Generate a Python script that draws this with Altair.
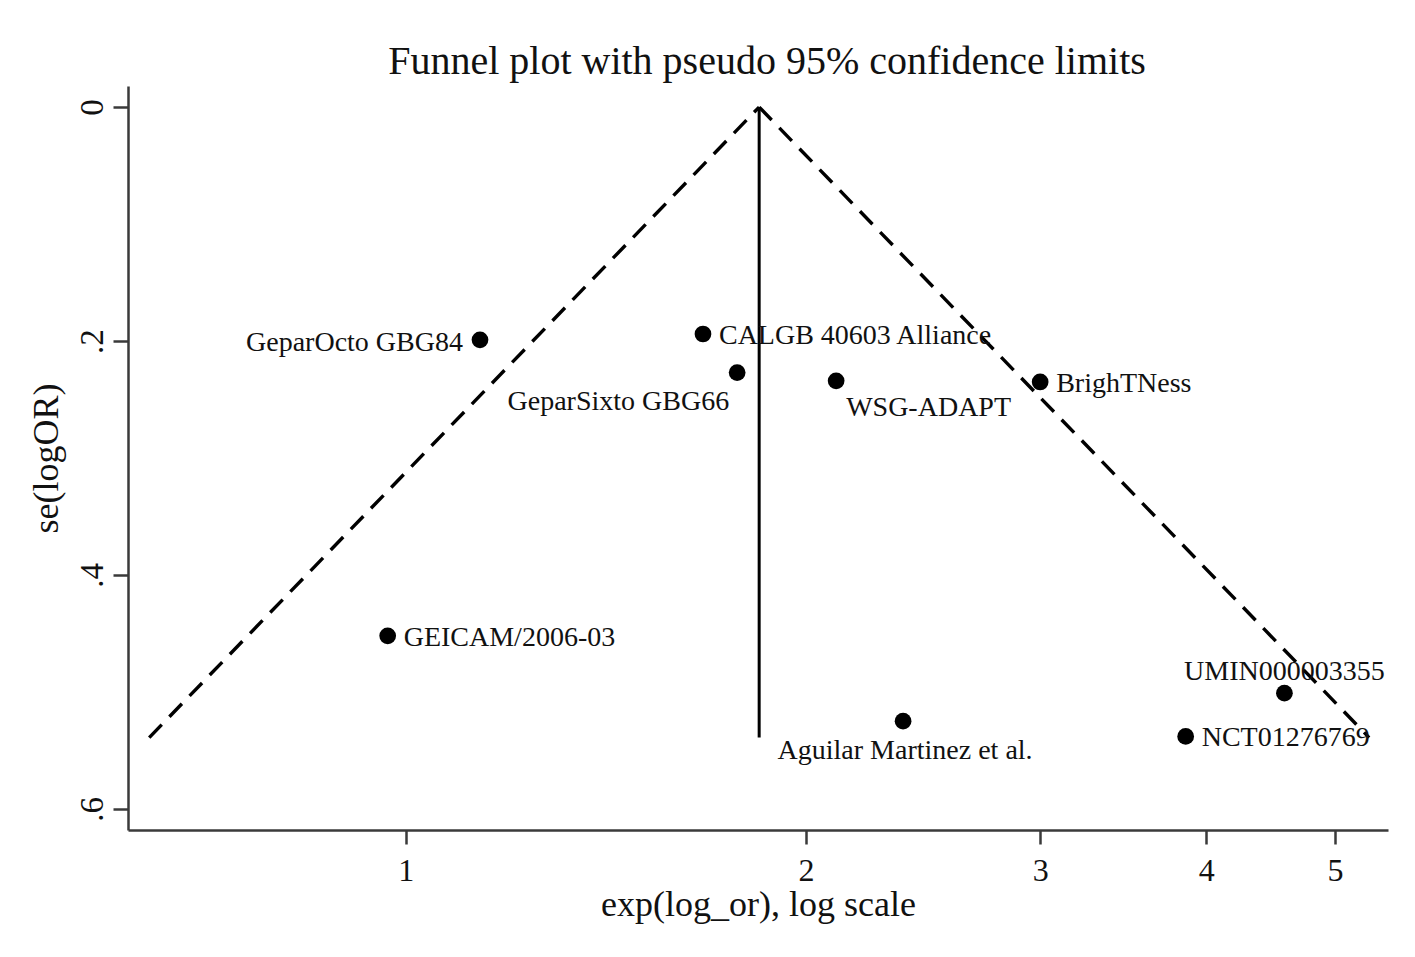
import math
import altair as alt
import pandas as pd

# Study estimates: odds ratio and standard error of log(OR)
studies = [
    "GeparOcto GBG84",
    "CALGB 40603 Alliance",
    "GeparSixto GBG66",
    "WSG-ADAPT",
    "BrighTNess",
    "GEICAM/2006-03",
    "UMIN000003355",
    "Aguilar Martinez et al.",
    "NCT01276769",
]
odds_ratio = [1.137, 1.673, 1.775, 2.107, 3.0, 0.969, 4.58, 2.366, 3.86]
se_log_or = [0.199, 0.194, 0.227, 0.234, 0.235, 0.452, 0.501, 0.525, 0.538]
# marker label position, clock style (3 = right, 9 = left, 12 = above, 6 = below ...)
label_clock = [9, 3, 7, 5, 3, 3, 12, 6, 3]

# pooled (fixed-effect) estimate and the largest standard error shown
pooled_or = 1.844
se_max = 0.539
z95 = 1.96

x_ticks = [1, 2, 3, 4, 5]
y_ticks = [0, 0.2, 0.4, 0.6]

FONT = "Liberation Serif"

df = pd.DataFrame({"study": studies, "or": odds_ratio, "se": se_log_or, "pos": label_clock})

b = math.log(pooled_or)
funnel = pd.DataFrame({
    "side": ["lower", "lower", "upper", "upper"],
    "or": [math.exp(b - z95 * se_max), pooled_or, pooled_or, math.exp(b + z95 * se_max)],
    "se": [se_max, 0.0, 0.0, se_max],
})
center = pd.DataFrame({"or": [pooled_or, pooled_or], "se": [0.0, se_max]})

x_scale = alt.Scale(type="log", domain=[0.618, 5.48], nice=False, zero=False)
y_scale = alt.Scale(domain=[-0.018, 0.618], reverse=True, nice=False, zero=False)

x_axis = alt.Axis(
    values=x_ticks,
    labelExpr="format(datum.value, 'd')",
    title="exp(log_or), log scale",
    grid=False,
    domainColor="#3a3a3a", domainWidth=2.5,
    tickColor="#3a3a3a", tickWidth=2.5, tickSize=14,
    labelFont=FONT, labelFontSize=32, labelColor="#111",
    labelBaseline="alphabetic", labelPadding=36,
    titleFont=FONT, titleFontSize=36, titleFontWeight="normal", titleColor="#111",
    titleBaseline="alphabetic", titleY=85, titleX=630, titleAlign="center",
)
y_axis = alt.Axis(
    values=y_ticks,
    labelExpr="datum.value == 0 ? '0' : replace(format(datum.value, '.1f'), '0.', '.')",
    title="se(logOR)",
    grid=False,
    domainColor="#3a3a3a", domainWidth=2.5,
    tickColor="#3a3a3a", tickWidth=2.5, tickSize=15,
    labelFont=FONT, labelFontSize=33, labelColor="#111",
    labelAngle=270, labelAlign="center", labelBaseline="alphabetic", labelPadding=11,
    titleFont=FONT, titleFontSize=36, titleFontWeight="normal", titleColor="#111",
    titleAngle=270, titleBaseline="alphabetic", titleAlign="center",
    titleX=-71, titleY=372,
)

base_x = alt.X("or:Q", scale=x_scale, axis=x_axis)
base_y = alt.Y("se:Q", scale=y_scale, axis=y_axis)

limits = alt.Chart(funnel).mark_line(
    color="black", strokeWidth=3.4, strokeDash=[18, 11]
).encode(x=base_x, y=base_y, detail="side:N")

vline = alt.Chart(center).mark_line(color="black", strokeWidth=3).encode(
    x=alt.X("or:Q", scale=x_scale), y=alt.Y("se:Q", scale=y_scale)
)

points = alt.Chart(df).mark_circle(color="black", opacity=1, size=280).encode(
    x=alt.X("or:Q", scale=x_scale), y=alt.Y("se:Q", scale=y_scale)
)

# label placement for each clock position: (align, dx, dy)
placements = {
    3: ("left", 16, 2),
    9: ("right", -17, 3),
    7: ("right", -8, 29),
    5: ("left", 10, 27),
    12: ("center", 0, -21),
    6: ("center", 2, 30),
}

label_layers = []
for pos, (align, dx, dy) in placements.items():
    label_layers.append(
        alt.Chart(df).transform_filter(alt.datum.pos == pos).mark_text(
            font=FONT, fontSize=28, color="#111", align=align,
            baseline="middle", dx=dx, dy=dy,
        ).encode(
            x=alt.X("or:Q", scale=x_scale), y=alt.Y("se:Q", scale=y_scale),
            text="study:N",
        )
    )

chart = alt.layer(limits, vline, points, *label_layers).properties(
    width=1260,
    height=744,
    autosize=alt.AutoSizeParams(type="none"),
    padding={"left": 128, "top": 86, "right": 27, "bottom": 127},
    background="white",
    title=alt.TitleParams(
        "Funnel plot with pseudo 95% confidence limits",
        font=FONT, fontSize=40, fontWeight="normal", color="#111",
        anchor="middle", offset=4, dx=9,
    ),
).configure_view(stroke=None)

chart.save("out.html", embed_options={"renderer": "svg", "actions": False})
